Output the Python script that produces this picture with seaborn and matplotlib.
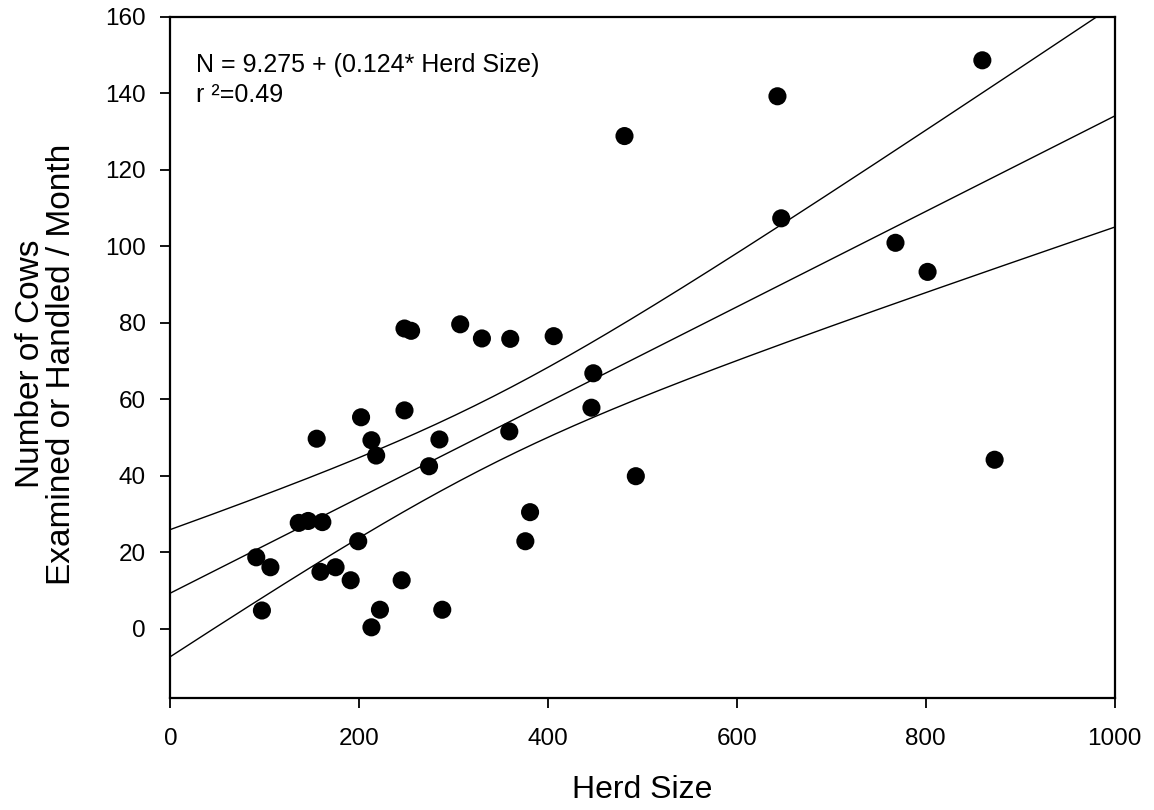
import matplotlib
matplotlib.use("Agg")
import matplotlib.pyplot as plt
import numpy as np
import pandas as pd
import seaborn as sns

# ==============================================================================: DATA
herd_size = [91, 97, 106, 136, 146, 155, 159, 161, 175, 191, 199, 202, 213, 213,
             218, 222, 245, 248, 248, 255, 274, 285, 288, 307, 330, 359, 360, 376,
             381, 406, 446, 448, 481, 493, 643, 647, 768, 802, 860, 873]
cows_month = [18.7, 4.8, 16.1, 27.7, 28.2, 49.7, 14.9, 27.9, 16.1, 12.7, 22.9, 55.3,
              49.3, 0.4, 45.3, 5.0, 12.7, 57.1, 78.5, 77.9, 42.5, 49.5, 5.0, 79.6,
              75.9, 51.6, 75.8, 22.9, 30.5, 76.5, 57.8, 66.8, 128.8, 39.9, 139.2,
              107.3, 100.9, 93.3, 148.6, 44.2]

x_ticks = [0, 200, 400, 600, 800, 1000]
y_ticks = [0, 20, 40, 60, 80, 100, 120, 140, 160]

equation_text = "N = 9.275 + (0.124* Herd Size)\nr \u00b2=0.49"

T_95 = 2.024  # t value, df = 38


# ==============================================================================: PLOT
def ft_plot(df):
    sns.set_style("ticks")
    plt.rcParams['font.family'] = ['Liberation Sans', 'DejaVu Sans']
    plt.rcParams['text.color'] = 'black'
    plt.rcParams['axes.labelcolor'] = 'black'

    fig = plt.figure(figsize=(11.54, 8.10), dpi=100)
    ax = fig.add_axes([0.1476, 0.1386, 0.8182, 0.8408])
    ax.set_xlim(0, 1000)
    ax.set_ylim(-18, 160)

    # regression line through seaborn, stretched to the axis limits
    sns.regplot(data=df, x="herd", y="cows", ax=ax, ci=None, scatter=False,
                truncate=False, color="black", line_kws={"linewidth": 1.0})

    # 95% confidence band, drawn as two lines
    x = df["herd"].to_numpy()
    y = df["cows"].to_numpy()
    slope, intercept = np.polyfit(x, y, 1)
    resid = y - (intercept + slope * x)
    s = np.sqrt(np.sum(resid ** 2) / (len(x) - 2))
    sxx = np.sum((x - x.mean()) ** 2)
    grid = np.linspace(0, 1000, 200)
    fit = intercept + slope * grid
    half = T_95 * s * np.sqrt(1 / len(x) + (grid - x.mean()) ** 2 / sxx)
    band = pd.DataFrame({"g": grid, "lo": fit - half, "hi": fit + half})
    sns.lineplot(data=band, x="g", y="lo", ax=ax, color="black", linewidth=1.0)
    sns.lineplot(data=band, x="g", y="hi", ax=ax, color="black", linewidth=1.0)

    sns.scatterplot(data=df, x="herd", y="cows", ax=ax, color="black", s=170,
                    edgecolor="none", zorder=5)

    ax.set_xticks(x_ticks)
    ax.set_yticks(y_ticks)
    ax.tick_params(axis="both", direction="out", length=7.5, width=1.3,
                   labelsize=17.5, colors="black", pad=10)
    ax.tick_params(axis="x", pad=14)
    for sp in ax.spines.values():
        sp.set_visible(True)
        sp.set_linewidth(1.6)
        sp.set_color("black")

    ax.set_xlabel("Herd Size", fontsize=23, labelpad=18)
    ax.set_ylabel("Number of Cows\nExamined or Handled / Month", fontsize=24,
                  labelpad=20, linespacing=1.0)
    ax.yaxis.label.set_y(0.49)

    ax.text(0.0275, 0.946, equation_text, transform=ax.transAxes, fontsize=18,
            va="top", ha="left", linespacing=1.3)

    fig.savefig("out.png", dpi=100, facecolor="white")


# ==============================================================================: MAIN
def main():
    df = pd.DataFrame({"herd": herd_size, "cows": cows_month})
    ft_plot(df)


if __name__ == '__main__':
    main()
